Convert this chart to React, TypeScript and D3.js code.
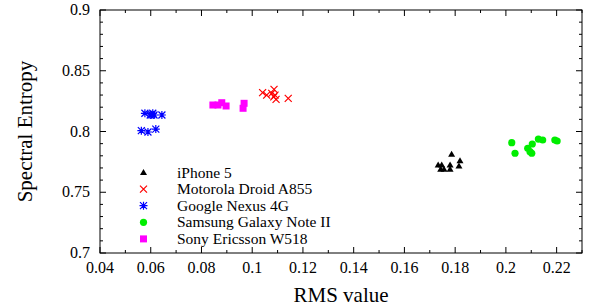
import React, { useEffect, useRef } from 'react';
import * as d3 from 'd3';

// Readings from the reference picture: [rms, spectral entropy]
const iphone5: [number, number][] = [
  [0.1786, 0.7812], [0.1819, 0.776], [0.1815, 0.7716], [0.1733, 0.7724], [0.1747, 0.7724],
  [0.1756, 0.7689], [0.178, 0.7724], [0.178, 0.7689], [0.1743, 0.7689]
];
const motorola: [number, number][] = [
  [0.1041, 0.832], [0.1057, 0.830], [0.1077, 0.8314], [0.1086, 0.8347], [0.109, 0.830],
  [0.1094, 0.8265], [0.1085, 0.8285], [0.1142, 0.8273]
];
const nexus: [number, number][] = [
  [0.0577, 0.815], [0.0598, 0.8136], [0.0604, 0.8138], [0.0613, 0.8136], [0.0608, 0.815],
  [0.0644, 0.8136], [0.0563, 0.8007], [0.0589, 0.7996], [0.062, 0.802]
];
const samsung: [number, number][] = [
  [0.2023, 0.7908], [0.2036, 0.7821], [0.2086, 0.7862], [0.2095, 0.7834], [0.2102, 0.7821],
  [0.2104, 0.7897], [0.2128, 0.7938], [0.2145, 0.793], [0.2193, 0.793], [0.2202, 0.7922]
];
const sony: [number, number][] = [
  [0.0845, 0.8218], [0.0865, 0.8218], [0.088, 0.8237], [0.0897, 0.821], [0.0968, 0.8232],
  [0.0964, 0.8191]
];

const seriesNames = ['iPhone 5', 'Motorola Droid A855', 'Google Nexus 4G', 'Samsung Galaxy Note II', 'Sony Ericsson W518'];
const seriesData = [iphone5, motorola, nexus, samsung, sony];
const seriesColors = ['#000000', '#ff0000', '#0000ff', '#00ee00', '#ff00ff'];
const seriesShapes = ['triangle', 'cross', 'star', 'circle', 'square'];

const xTicks = [0.04, 0.06, 0.08, 0.1, 0.12, 0.14, 0.16, 0.18, 0.2, 0.22];
const yTicks = [0.7, 0.75, 0.8, 0.85, 0.9];

const drawMarker = (g: d3.Selection<SVGGElement, unknown, null, undefined>, shape: string, x: number, y: number, color: string) => {
  if (shape === 'triangle') {
    g.append('path').attr('d', `M${x},${y - 3.5}L${x + 3.5},${y + 2.5}L${x - 3.5},${y + 2.5}Z`).attr('fill', color);
  } else if (shape === 'cross') {
    g.append('path').attr('d', `M${x - 3.5},${y - 3.5}L${x + 3.5},${y + 3.5}M${x + 3.5},${y - 3.5}L${x - 3.5},${y + 3.5}`)
      .attr('stroke', color).attr('stroke-width', 1.2).attr('fill', 'none');
  } else if (shape === 'star') {
    g.append('path').attr('d', `M${x - 3.5},${y - 3.5}L${x + 3.5},${y + 3.5}M${x + 3.5},${y - 3.5}L${x - 3.5},${y + 3.5}M${x},${y - 4}L${x},${y + 4}M${x - 4},${y}L${x + 4},${y}`)
      .attr('stroke', color).attr('stroke-width', 1.2).attr('fill', 'none');
  } else if (shape === 'circle') {
    g.append('circle').attr('cx', x).attr('cy', y).attr('r', 3.6).attr('fill', color);
  } else {
    g.append('rect').attr('x', x - 3.5).attr('y', y - 3.5).attr('width', 7).attr('height', 7).attr('fill', color);
  }
};

export default function App() {
  const svgRef = useRef<SVGSVGElement>(null);

  useEffect(() => {
    if (!svgRef.current) return;
    const svg = d3.select(svgRef.current);
    svg.selectAll('*').remove();

    const left = 100, right = 582, top = 10, bottom = 253;
    const font = '"Liberation Serif", "Times New Roman", serif';

    const x = d3.scaleLinear().domain([0.04, 0.23]).range([left, right]);
    const y = d3.scaleLinear().domain([0.7, 0.9]).range([bottom, top]);

    const g = svg.append('g');

    // minor + major ticks, mirrored inside the frame
    const xMinor = d3.range(0.04, 0.2301, 0.01);
    xMinor.forEach((v, i) => {
      const len = i % 2 === 0 ? 6 : 3;
      const px = x(v);
      g.append('line').attr('x1', px).attr('x2', px).attr('y1', bottom).attr('y2', bottom - len).attr('stroke', '#000');
      g.append('line').attr('x1', px).attr('x2', px).attr('y1', top).attr('y2', top + len).attr('stroke', '#000');
    });
    const yMinor = d3.range(0.7, 0.9001, 0.01);
    yMinor.forEach((v, i) => {
      const len = i % 5 === 0 ? 6 : 3;
      const py = y(v);
      g.append('line').attr('x1', left).attr('x2', left + len).attr('y1', py).attr('y2', py).attr('stroke', '#000');
      g.append('line').attr('x1', right).attr('x2', right - len).attr('y1', py).attr('y2', py).attr('stroke', '#000');
    });

    g.append('rect').attr('x', left).attr('y', top).attr('width', right - left).attr('height', bottom - top)
      .attr('fill', 'none').attr('stroke', '#000').attr('stroke-width', 1);

    xTicks.forEach(v => {
      g.append('text').attr('x', x(v)).attr('y', bottom + 20).attr('text-anchor', 'middle')
        .attr('font-family', font).attr('font-size', 16).text(d3.format('~g')(v));
    });
    yTicks.forEach(v => {
      g.append('text').attr('x', left - 10).attr('y', y(v) + 5).attr('text-anchor', 'end')
        .attr('font-family', font).attr('font-size', 16).text(d3.format('~g')(v));
    });

    g.append('text').attr('x', (left + right) / 2).attr('y', 302).attr('text-anchor', 'middle')
      .attr('font-family', font).attr('font-size', 21).text('RMS value');
    g.append('text').attr('transform', `translate(32,${(top + bottom) / 2}) rotate(-90)`).attr('text-anchor', 'middle')
      .attr('font-family', font).attr('font-size', 21).text('Spectral Entropy');

    // points
    seriesData.forEach((data, si) => {
      data.forEach(([vx, vy]) => drawMarker(g, seriesShapes[si], x(vx), y(vy), seriesColors[si]));
    });

    // legend
    seriesNames.forEach((name, i) => {
      const ly = 172.5 + i * 16.6;
      drawMarker(g, seriesShapes[i], 143.5, ly, seriesColors[i]);
      g.append('text').attr('x', 177).attr('y', ly + 5).attr('font-family', font).attr('font-size', 15.5).text(name);
    });
  }, []);

  return <svg ref={svgRef} width={593} height={307} style={{ position: 'absolute', left: 0, top: 0 }} />;
}
